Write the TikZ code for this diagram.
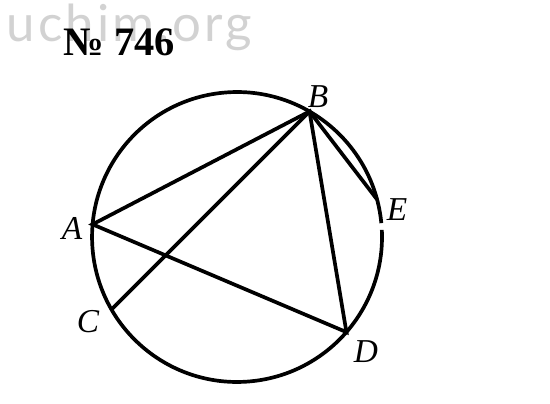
\documentclass[tikz,border=0pt]{standalone}
\usepackage{fontspec}
\setmainfont{Liberation Serif}
\newfontfamily\wmfont[LetterSpace=6]{Lato}
\begin{document}
\begin{tikzpicture}[x=0.02cm,y=0.02cm,line width=2.1pt]
\useasboundingbox (0,0) rectangle (550,403);
% watermark and number
\node[anchor=base west,inner sep=0,text=gray!35,font=\wmfont\fontsize{29}{29}\selectfont] (wm) at (5,361) {uchim.org};
\node[anchor=base west,inner sep=0,font=\bfseries\fontsize{23}{23}\selectfont] (num) at (62,348) {№ 746};
% circle
\coordinate (O) at (237,166);
\draw (O) ++(5.5:145) arc[start angle=5.5, end angle=362.8, radius=2.9cm];
\path (O) ++(175:145) coordinate (A);
\path (O) ++(60:145) coordinate (B);
\path (O) ++(15:145) coordinate (E);
\path (O) ++(-41:145) coordinate (D);
\path (O) ++(210:145) coordinate (C);
% chords
\draw (A)--(B)--(D)--cycle;
\draw (B)--(E);
\draw (C)--(B);
% labels
\foreach \p/\x/\y in {A/72/175,B/318/306,E/397/193,D/366/51,C/88/81}{
\node[font=\itshape\fontsize{19}{19}\selectfont] (l\p) at (\x,\y) {\p};}
\end{tikzpicture}
\end{document}
